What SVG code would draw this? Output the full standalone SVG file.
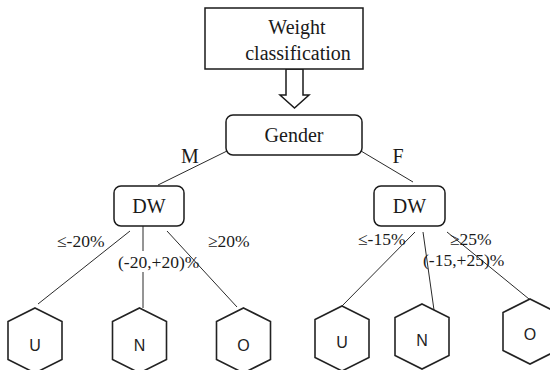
<svg xmlns="http://www.w3.org/2000/svg" width="550" height="370" viewBox="0 0 550 370">
  <style>
    .box { fill: #ffffff; stroke: #1a1a1a; stroke-width: 1.5; }
    .serif { font-family: "Liberation Serif", "Times New Roman", serif; fill: #1a1a1a; }
    .lbl { font-size: 20px; text-anchor: middle; }
    .cond { font-size: 17.5px; }
    .hex { fill: #ffffff; stroke: #222222; stroke-width: 1.6; stroke-linejoin: miter; }
    .leaf { font-family: "Liberation Sans", Arial, sans-serif; font-size: 16px; fill: #222222; text-anchor: middle; }
    .edge { stroke: #2a2a2a; stroke-width: 1; fill: none; }
  </style>
  <defs>
    <!-- pointy-top hexagon, origin at its top vertex -->
    <path id="hexShape" d="M0,0 L27,13.5 L27,51.5 L0,65 L-27,51.5 L-27,13.5 Z"/>
  </defs>

  <rect width="550" height="370" fill="#ffffff"/>

  <!-- connectors -->
  <g id="connectors">
    <polygon class="box" points="286,69 303,69 303,95 309,95 294.5,108 280,95 286,95"/>
    <line class="edge" x1="227" y1="151" x2="158" y2="185"/>
    <line class="edge" x1="361" y1="151" x2="413" y2="182"/>
    <!-- male branches -->
    <line class="edge" x1="130" y1="231" x2="38" y2="304"/>
    <line class="edge" x1="143" y1="226" x2="143" y2="251"/>
    <line class="edge" x1="143" y1="272" x2="143" y2="308"/>
    <line class="edge" x1="167" y1="231" x2="237" y2="307"/>
    <!-- female branches -->
    <line class="edge" x1="415" y1="232" x2="342" y2="306"/>
    <line class="edge" x1="423" y1="232" x2="434" y2="310"/>
    <line class="edge" x1="447" y1="232" x2="529" y2="299"/>
    <!-- branch labels -->
    <text class="serif lbl" x="190" y="163">M</text>
    <text class="serif lbl" x="398" y="163">F</text>
    <text class="serif cond" x="57" y="247">≤-20%</text>
    <text class="serif cond" x="208" y="247">≥20%</text>
    <text class="serif cond" x="118" y="268">(-20,+20)%</text>
    <text class="serif cond" x="358" y="245">≤-15%</text>
    <text class="serif cond" x="450" y="245">≥25%</text>
    <text class="serif cond" x="423" y="266">(-15,+25)%</text>
  </g>

  <g id="weight-classification">
    <rect class="box" x="205" y="8" width="158" height="61"/>
    <text class="serif lbl" x="297" y="34">Weight</text>
    <text class="serif lbl" x="298" y="60">classification</text>
  </g>

  <g id="gender">
    <rect class="box" x="226" y="115" width="136" height="40" rx="7"/>
    <text class="serif lbl" x="294" y="142">Gender</text>
  </g>

  <g id="dw-male">
    <rect class="box" x="114" y="186" width="70" height="40" rx="7"/>
    <text class="serif lbl" x="149" y="213">DW</text>
  </g>

  <g id="dw-female">
    <rect class="box" x="374" y="186" width="71" height="40" rx="7"/>
    <text class="serif lbl" x="409.5" y="213">DW</text>
  </g>

  <g id="male-u">
    <use href="#hexShape" class="hex" x="35" y="308"/>
    <text class="leaf" x="35" y="351">U</text>
  </g>
  <g id="male-n">
    <use href="#hexShape" class="hex" x="139.5" y="308"/>
    <text class="leaf" x="139.5" y="351">N</text>
  </g>
  <g id="male-o">
    <use href="#hexShape" class="hex" x="243.5" y="308"/>
    <text class="leaf" x="243.5" y="351">O</text>
  </g>

  <g id="female-u">
    <use href="#hexShape" class="hex" x="342" y="306"/>
    <text class="leaf" x="342" y="348">U</text>
  </g>
  <g id="female-n">
    <use href="#hexShape" class="hex" x="422" y="304"/>
    <text class="leaf" x="422" y="346">N</text>
  </g>
  <g id="female-o">
    <use href="#hexShape" class="hex" x="530" y="299"/>
    <text class="leaf" x="530" y="340">O</text>
  </g>
</svg>
